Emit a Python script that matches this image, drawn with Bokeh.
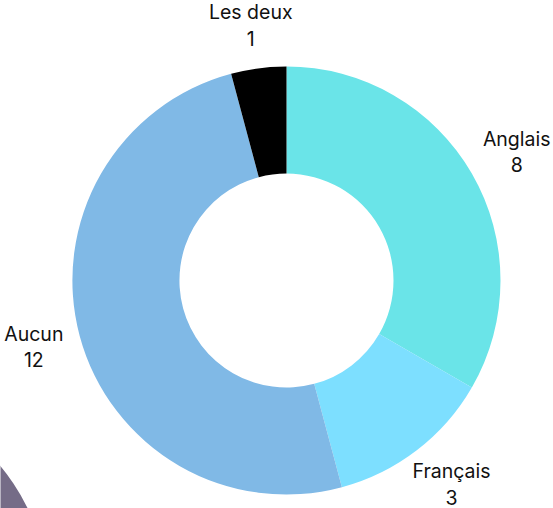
import numpy as np
from bokeh.plotting import figure
from bokeh.models import ColumnDataSource, Range1d
from bokeh.core.properties import value
from bokeh.embed import file_html
from bokeh.resources import INLINE

categories = ["Anglais", "Français", "Aucun", "Les deux"]
counts = [8, 3, 12, 1]
colors = ["#6AE4E8", "#7DDFFF", "#80B9E6", "#000000"]

W, H = 553, 508
cx, cy = 286, 228
r_out, r_in = 214, 107
r_lab = 232

vals = np.array(counts, dtype=float)
frac = vals / vals.sum()
cum_end = np.cumsum(frac)
cum_start = cum_end - frac
start = np.pi / 2 - cum_start * 2 * np.pi
end = np.pi / 2 - cum_end * 2 * np.pi
mid = (start + end) / 2

src = ColumnDataSource(dict(start=end, end=start, color=colors))

p = figure(width=W, height=H, output_backend="svg", toolbar_location=None,
           x_range=Range1d(0, W), y_range=Range1d(0, H),
           min_border=0, outline_line_color=None)
p.axis.visible = False
p.grid.visible = False
p.background_fill_color = "white"

# decorative partial circle at bottom-left
p.circle(x=[-165], y=[-94], radius=214, fill_color="#756C87", line_color=None)

p.annular_wedge(x=cx, y=cy, inner_radius=r_in, outer_radius=r_out,
                start_angle="start", end_angle="end", color="color",
                line_color=None, source=src)

for cat, n, a in zip(categories, counts, mid):
    dx, dy = np.cos(a), np.sin(a)
    fx = float(0.5 - 0.5 * dx)
    fy = float(0.5 + 0.5 * dy)  # screen: 0 = top, 1 = bottom
    p.text(x=[cx + r_lab * dx], y=[cy + r_lab * dy], text=[f"{cat}\n{n}"],
           anchor=value((fx, fy)), text_align="center",
           text_font=value("Inter"), text_font_size="19.5px",
           text_color="#111111", text_line_height=1.1)

open("out.html", "w").write(file_html(p, INLINE))
